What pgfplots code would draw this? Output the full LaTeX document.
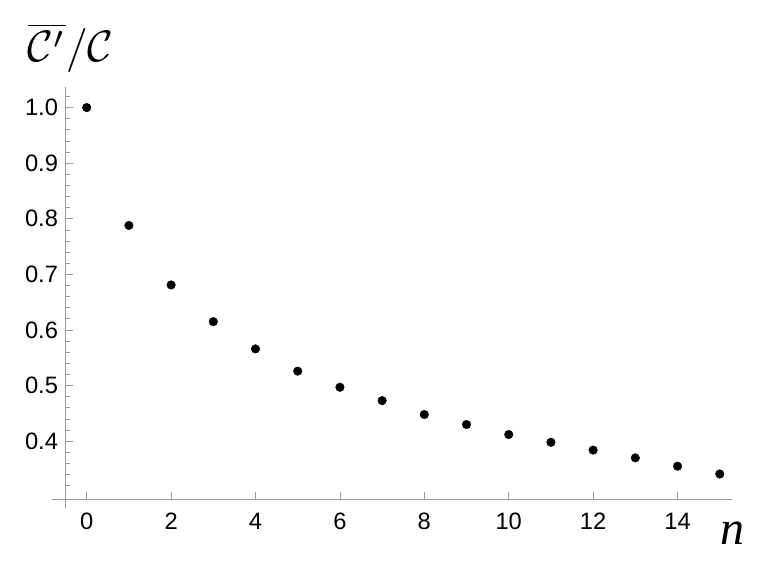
\documentclass[border=0pt]{standalone}
\usepackage{fontspec}
\setmainfont{Liberation Sans}
\newfontfamily\serifit{Liberation Serif}
\usepackage{pgfplots}
\pgfplotsset{compat=1.18}
\definecolor{axgray}{HTML}{999999}
\begin{document}
\begin{tikzpicture}
\path[use as bounding box] (0,0) rectangle (763pt,565pt);
\begin{axis}[
  at={(65.2pt,65.7pt)}, anchor=south west,
  x=42.2pt, y=556pt,
  xmin=-0.51, xmax=15.28, ymin=0.2955, ymax=1.0376,
  axis lines=left,
  axis line style={-, draw=axgray, line width=0.8pt},
  clip=false,
  xtick={0,2,4,6,8,10,12,14},
  ytick={0.4,0.5,0.6,0.7,0.8,0.9,1.0},
  minor ytick={0.32,0.34,0.36,0.38,0.42,0.44,0.46,0.48,0.52,0.54,0.56,0.58,0.62,0.64,0.66,0.68,0.72,0.74,0.76,0.78,0.82,0.84,0.86,0.88,0.92,0.94,0.96,0.98,1.02},
  tick align=inside,
  major tick length=7.7pt, minor tick length=5pt,
  every tick/.style={draw=axgray, line width=0.8pt},
  /pgf/number format/assume math mode=true,
  tick label style={font=\fontsize{23.7}{28}\selectfont, text=black},
  xticklabel style={anchor=north, inner sep=0pt, yshift=-13.7pt},
  yticklabel style={anchor=east, inner sep=0pt, xshift=-7pt,
    /pgf/number format/.cd, fixed, fixed zerofill, precision=1},
]
\addplot[only marks, mark=*, mark size=4.3pt, black] table {
x y
0 1.000
1 0.788
2 0.681
3 0.615
4 0.566
5 0.526
6 0.497
7 0.473
8 0.448
9 0.430
10 0.412
11 0.398
12 0.384
13 0.370
14 0.355
15 0.341
};
\draw[axgray, line width=0.8pt] (axis cs:-0.83,0.2955) -- (axis cs:-0.51,0.2955);
\draw[axgray, line width=0.8pt] (axis cs:-0.51,0.2955) -- (axis cs:-0.51,0.2804);
\end{axis}
\node[anchor=base west, inner sep=0pt, scale=4.4, transform shape] at (27pt,503.3pt) {$\overline{\mathcal{C}'}/\mathcal{C}$};
\node[anchor=base west, inner sep=0pt, font=\fontsize{48}{48}\selectfont\serifit\itshape] at (720pt,20pt) {n};
\end{tikzpicture}
\end{document}
